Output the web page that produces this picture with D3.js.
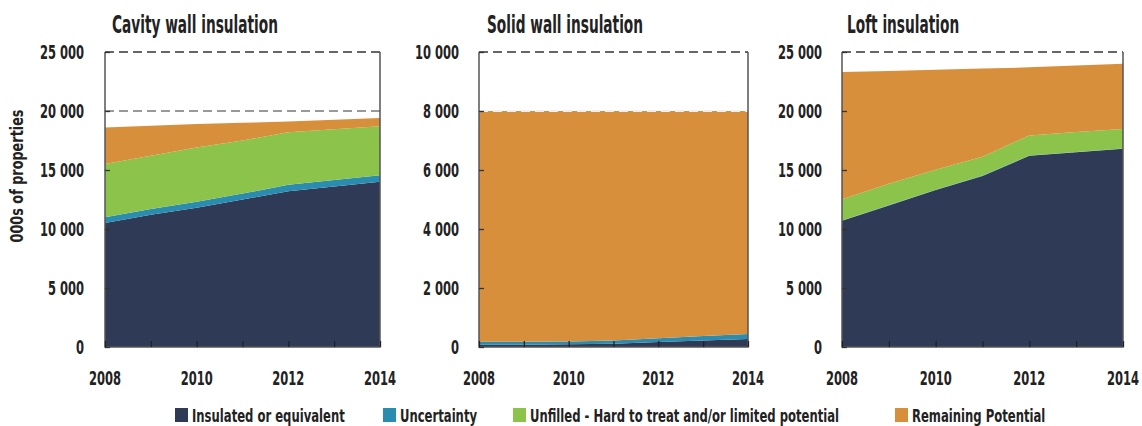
<!DOCTYPE html>
<html><head><meta charset="utf-8">
<script src="https://cdn.jsdelivr.net/npm/d3@7/dist/d3.min.js"></script>
<style>
body{margin:0;background:#fff;}
text{font-family:"DejaVu Sans Condensed","DejaVu Sans",sans-serif;font-weight:bold;fill:#222;}
</style></head>
<body><svg id="c" width="1142" height="426"></svg>
<script>
const years = [2008, 2009, 2010, 2011, 2012, 2013, 2014];
const seriesNames = ["Insulated or equivalent", "Uncertainty", "Unfilled - Hard to treat and/or limited potential", "Remaining Potential"];
const seriesColors = ["#2f3a57", "#2a8db0", "#8cc34b", "#d78f3c"];

const panelTitles = ["Cavity wall insulation", "Solid wall insulation", "Loft insulation"];
const yMax = [25000, 10000, 25000];
const yTicks = [[0, 5000, 10000, 15000, 20000, 25000], [0, 2000, 4000, 6000, 8000, 10000], [0, 5000, 10000, 15000, 20000, 25000]];
const xTicks = [2008, 2010, 2012, 2014];
const dashedLevels = [[20000, 25000], [8000, 10000], [25000]];

// Cavity wall
const cavityInsulated   = [10500, 11200, 11800, 12500, 13200, 13600, 14000];
const cavityUncertainty = [500, 500, 500, 500, 550, 550, 550];
const cavityUnfilled    = [4500, 4500, 4600, 4500, 4450, 4300, 4150];
const cavityRemaining   = [3100, 2550, 2000, 1500, 900, 800, 700];
// Solid wall
const solidInsulated    = [80, 80, 90, 110, 170, 220, 270];
const solidUncertainty  = [100, 100, 100, 110, 130, 150, 170];
const solidUnfilled     = [0, 0, 0, 0, 0, 0, 0];
const solidRemaining    = [7820, 7820, 7810, 7780, 7700, 7630, 7560];
// Loft
const loftInsulated     = [10700, 12000, 13300, 14500, 16200, 16500, 16800];
const loftUncertainty   = [30, 30, 30, 30, 30, 30, 30];
const loftUnfilled      = [1800, 1800, 1700, 1600, 1700, 1700, 1650];
const loftRemaining     = [10770, 9570, 8470, 7470, 5770, 5620, 5520];

const panelData = [
  [cavityInsulated, cavityUncertainty, cavityUnfilled, cavityRemaining],
  [solidInsulated, solidUncertainty, solidUnfilled, solidRemaining],
  [loftInsulated, loftUncertainty, loftUnfilled, loftRemaining]
];

const svg = d3.select("#c");

// measure horizontal squeeze factors so the wide fallback font mimics the condensed original
function squeeze(str, size, target) {
  const t = svg.append("text").attr("font-size", size).text(str);
  const w = t.node().getComputedTextLength();
  t.remove();
  return target / w;
}
const kTick = squeeze("2008", 20, 32);
const kTitle = squeeze("Cavity wall insulation", 24, 166);
const kLegend = squeeze("Insulated or equivalent", 18, 153);
const kYTitle = squeeze("000s of properties", 17, 133);

function label(parent, x, y, str, size, k, anchor, rot) {
  return parent.append("text")
    .attr("transform", `translate(${x},${y})` + (rot ? ` rotate(${rot})` : "") + ` scale(${k},1)`)
    .attr("font-size", size).attr("text-anchor", anchor || "start").text(str);
}

const panels = [
  {x0: 105, x1: 380, labelRight: 84, titleX: 112},
  {x0: 479, x1: 748, labelRight: 459, titleX: 487},
  {x0: 842, x1: 1123, labelRight: 822, titleX: 847}
];
const yTop = 52, yBot = 347;
const fmt = v => d3.format(",")(v).replace(/,/g, " ");

panels.forEach((p, i) => {
  const x = d3.scaleLinear().domain([2008, 2014]).range([p.x0, p.x1]);
  const y = d3.scaleLinear().domain([0, yMax[i]]).range([yBot, yTop]);
  const g = svg.append("g");
  const rows = years.map((yr, j) => {
    const o = {year: yr};
    seriesNames.forEach((s, k) => o[s] = panelData[i][k][j]);
    return o;
  });
  const stack = d3.stack().keys(seriesNames)(rows);
  const area = d3.area().x(d => x(d.data.year)).y0(d => y(d[0])).y1(d => y(d[1]));
  g.selectAll("path.a").data(stack).join("path").attr("class", "a")
    .attr("d", area).attr("fill", (d, k) => seriesColors[k]);

  dashedLevels[i].forEach(v => {
    g.append("line").attr("x1", p.x0).attr("x2", p.x1).attr("y1", y(v)).attr("y2", y(v))
      .attr("stroke", v === yMax[i] ? "#666" : (i === 1 ? "#eee" : "#999"))
      .attr("stroke-width", 2).attr("stroke-dasharray", "9,5");
  });
  g.append("path").attr("d", `M${p.x0},${yTop}V${yBot}H${p.x1}V${yTop}`)
    .attr("fill", "none").attr("stroke", "#555").attr("stroke-width", 1.5);

  const ya = d3.axisRight(y).tickValues(yTicks[i]).tickSize(5).tickFormat("");
  g.append("g").attr("transform", `translate(${p.x0},0)`).call(ya)
    .call(s => s.select(".domain").remove())
    .call(s => s.selectAll("line").attr("stroke", "#333").attr("stroke-width", 1.3));
  yTicks[i].forEach(d => label(g, p.labelRight, y(d) + 7, fmt(d), 20, kTick, "end"));

  const xa = d3.axisTop(x).tickValues(years).tickSize(6).tickFormat("");
  g.append("g").attr("transform", `translate(0,${yBot})`).call(xa)
    .call(s => s.select(".domain").remove())
    .call(s => s.selectAll("line").attr("stroke", "#222").attr("stroke-width", 1.3));
  xTicks.forEach(d => label(g, x(d), 385, d, 20, kTick, "middle"));

  label(g, p.titleX, 33, panelTitles[i], 24, kTitle, "start");
});

label(svg, 23, 176, "000s of properties", 17, kYTitle, "middle", -90);

const legendX = [175, 383, 513, 895];
seriesNames.forEach((s, k) => {
  svg.append("rect").attr("x", legendX[k]).attr("y", 408).attr("width", 13).attr("height", 14)
    .attr("fill", seriesColors[k]);
  label(svg, legendX[k] + 17, 422, s, 18, kLegend, "start");
});
</script></body></html>
